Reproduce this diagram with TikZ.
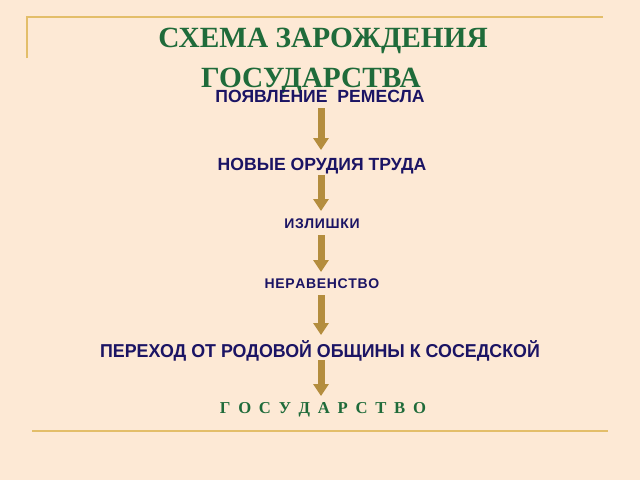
\documentclass[tikz,border=0pt]{standalone}
\usepackage{fontspec}
\setmainfont{Liberation Serif}
\setsansfont{Liberation Sans}
\usetikzlibrary{arrows.meta}
\definecolor{bg}{HTML}{FDE9D5}
\definecolor{rule}{HTML}{E3BE6A}
\definecolor{ttl}{HTML}{1F6B3A}
\definecolor{navy}{HTML}{1B1464}
\definecolor{arrc}{HTML}{B48D3E}
\newcommand{\gk}{\kern0.5pt}
\newcommand{\gs}{\hspace{5.8pt}}
\begin{document}
\begin{tikzpicture}[x=0.75pt,y=-0.75pt,
  title/.style={anchor=base,inner sep=0pt,text=ttl,font=\rmfamily\bfseries\fontsize{22pt}{24pt}\selectfont},
  stepbox/.style={anchor=base,inner sep=0pt,text=navy,font=\sffamily\bfseries\fontsize{13.2pt}{15pt}\selectfont},
  smallbox/.style={anchor=base,inner sep=0pt,text=navy,font=\sffamily\bfseries\fontsize{10.5pt}{12pt}\selectfont},
  finalbox/.style={anchor=base,inner sep=0pt,text=ttl,font=\rmfamily\bfseries\fontsize{12.5pt}{14pt}\selectfont},
  arr/.style={draw=arrc,line width=5.25pt,-{Triangle[width=11.25pt,length=9pt,fill=arrc]}},
  rulestyle/.style={draw=rule,line width=1.5pt}]
\fill[bg] (0,0) rectangle (640,480);
\useasboundingbox (0,0) rectangle (640,480);
\draw[rulestyle] (27,58) -- (27,17) -- (603,17);
\draw[rulestyle] (32,431) -- (608,431);
\node[title] (t1) at (323,47) {СХЕМА ЗАРОЖДЕНИЯ};
\node[title] (t2) at (311,87) {ГОСУДАРСТВА};
\node[stepbox] (s1) at (320,102) {ПОЯВЛЕНИЕ\ \ РЕМЕСЛА};
\node[stepbox] (s2) at (322,170) {НОВЫЕ ОРУДИЯ ТРУДА};
\node[smallbox] (s3) at (322,228) {И\gk З\gk Л\gk И\gk Ш\gk К\gk И};
\node[smallbox] (s4) at (322,288) {Н\gk Е\gk Р\gk А\gk В\gk Е\gk Н\gk С\gk Т\gk В\gk О};
\node[stepbox] (s5) at (320,357) {\scalebox{0.955}[1]{\fontsize{14pt}{16pt}\selectfont ПЕРЕХОД ОТ РОДОВОЙ ОБЩИНЫ К СОСЕДСКОЙ}};
\node[finalbox] (s6) at (323,413) {Г\gs О\gs С\gs У\gs Д\gs А\gs Р\gs С\gs Т\gs В\gs О};
\coordinate (a1s) at (321,108); \coordinate (a1e) at (321,150);
\coordinate (a2s) at (321,175); \coordinate (a2e) at (321,211);
\coordinate (a3s) at (321,235); \coordinate (a3e) at (321,272);
\coordinate (a4s) at (321,295); \coordinate (a4e) at (321,335);
\coordinate (a5s) at (321,360); \coordinate (a5e) at (321,396);
\draw[arr] (a1s) -- (a1e);
\draw[arr] (a2s) -- (a2e);
\draw[arr] (a3s) -- (a3e);
\draw[arr] (a4s) -- (a4e);
\draw[arr] (a5s) -- (a5e);
\end{tikzpicture}
\end{document}
